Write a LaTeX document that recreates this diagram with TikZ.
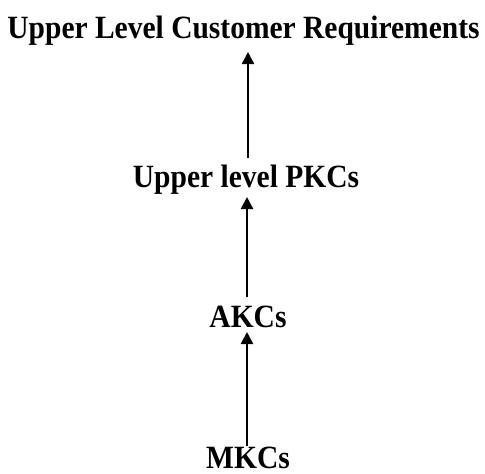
\documentclass[tikz,border=0pt]{standalone}
\usepackage{graphicx}
\usepackage{fontspec}
\setmainfont{Liberation Serif}
\usetikzlibrary{arrows.meta}
\newcommand\tallbox[1]{\scalebox{1}[1.1]{#1}}
\tikzset{
  lbl/.style={font=\bfseries\fontsize{29.5}{30}\selectfont, inner sep=0pt, anchor=base},
  up/.style={-{Triangle[length=12pt,width=12pt]}, line width=2.4pt},
}
\begin{document}
\begin{tikzpicture}[x=1pt,y=-1pt]
\useasboundingbox (0,0) rectangle (485,474);
\node[lbl] (ucr) at (243.5,38) {\tallbox{Upper Level Customer Requirements}};
\node[lbl] (pkc) at (246,187) {\tallbox{Upper level PKCs}};
\node[lbl] (akc) at (248,327) {\tallbox{AKCs}};
\node[lbl] (mkc) at (248,468) {\tallbox{MKCs}};
\coordinate (a1s) at (248,158);
\coordinate (a1e) at (248,52);
\coordinate (a2s) at (247,297);
\coordinate (a2e) at (247,197);
\coordinate (a3s) at (247,446);
\coordinate (a3e) at (247,332);
\draw[up] (a1s) -- (a1e);
\draw[up] (a2s) -- (a2e);
\draw[up] (a3s) -- (a3e);
\end{tikzpicture}
\end{document}
